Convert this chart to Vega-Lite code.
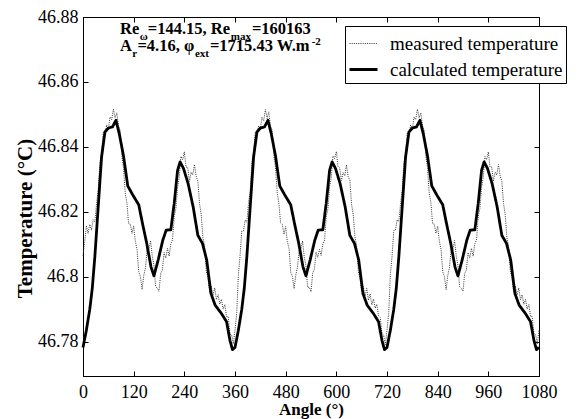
{
  "$schema": "https://vega.github.io/schema/vega-lite/v6.json",
  "width": 456,
  "height": 359,
  "autosize": {"type": "none"},
  "padding": {"left": 83, "top": 17, "right": 42, "bottom": 43},
  "background": "white",
  "config": {
    "view": {"stroke": "black", "strokeWidth": 1},
    "font": "Liberation Serif, Times New Roman, serif",
    "axis": {
      "labelFont": "Liberation Serif, Times New Roman, serif", "labelFontSize": 18, "labelColor": "black", "labelFontWeight": "normal",
      "titleFont": "Liberation Serif, Times New Roman, serif", "titleColor": "black", "titleFontWeight": "bold",
      "tickColor": "black", "domainColor": "black", "grid": false, "tickSize": -5
    },
    "legend": {
      "orient": "none", "legendX": 262, "legendY": 9,
      "strokeColor": "black", "fillColor": "white", "padding": 3,
      "labelFont": "Liberation Serif, Times New Roman, serif", "labelFontSize": 19, "labelColor": "black", "labelLimit": 0,
      "symbolType": "stroke", "symbolSize": 784, "rowPadding": -7, "labelOffset": 11
    }
  },
  "datasets": {
    "measured": [
      {"angle":0,"temp":46.8065},{"angle":4,"temp":46.8108},{"angle":8,"temp":46.8158},{"angle":12,"temp":46.8134},{"angle":16,"temp":46.8162},{"angle":20,"temp":46.8144},{"angle":24,"temp":46.8176},{"angle":28,"temp":46.8170},{"angle":32,"temp":46.8225},{"angle":36,"temp":46.8266},{"angle":40,"temp":46.8351},{"angle":44,"temp":46.8381},{"angle":48,"temp":46.8445},{"angle":52,"temp":46.8438},{"angle":56,"temp":46.8468},{"angle":60,"temp":46.8454},{"angle":64,"temp":46.8492},{"angle":68,"temp":46.8484},{"angle":72,"temp":46.8516},{"angle":76,"temp":46.8490},{"angle":80,"temp":46.8505},{"angle":84,"temp":46.8466},{"angle":88,"temp":46.8451},{"angle":92,"temp":46.8371},{"angle":96,"temp":46.8335},{"angle":100,"temp":46.8258},{"angle":104,"temp":46.8228},{"angle":108,"temp":46.8164},{"angle":112,"temp":46.8162},{"angle":116,"temp":46.8134},{"angle":120,"temp":46.8156},{"angle":124,"temp":46.8110},{"angle":128,"temp":46.8085},{"angle":132,"temp":46.8016},{"angle":136,"temp":46.8001},{"angle":140,"temp":46.7961},{"angle":144,"temp":46.8005},{"angle":148,"temp":46.8028},{"angle":152,"temp":46.8088},{"angle":156,"temp":46.8084},{"angle":160,"temp":46.8112},{"angle":164,"temp":46.8064},{"angle":168,"temp":46.8036},{"angle":172,"temp":46.7970},{"angle":176,"temp":46.7965},{"angle":180,"temp":46.7956},{"angle":184,"temp":46.8011},{"angle":188,"temp":46.8021},{"angle":192,"temp":46.8075},{"angle":196,"temp":46.8058},{"angle":200,"temp":46.8088},{"angle":204,"temp":46.8064},{"angle":208,"temp":46.8102},{"angle":212,"temp":46.8114},{"angle":216,"temp":46.8186},{"angle":220,"temp":46.8210},{"angle":224,"temp":46.8275},{"angle":228,"temp":46.8306},{"angle":232,"temp":46.8371},{"angle":236,"temp":46.8361},{"angle":240,"temp":46.8385},{"angle":244,"temp":46.8338},{"angle":248,"temp":46.8338},{"angle":252,"temp":46.8294},{"angle":256,"temp":46.8322},{"angle":260,"temp":46.8314},{"angle":264,"temp":46.8346},{"angle":268,"temp":46.8310},{"angle":272,"temp":46.8295},{"angle":276,"temp":46.8226},{"angle":280,"temp":46.8191},{"angle":284,"temp":46.8121},{"angle":288,"temp":46.8095},{"angle":292,"temp":46.8018},{"angle":296,"temp":46.7998},{"angle":300,"temp":46.7954},{"angle":304,"temp":46.7972},{"angle":308,"temp":46.7944},{"angle":312,"temp":46.7966},{"angle":316,"temp":46.7930},{"angle":320,"temp":46.7945},{"angle":324,"temp":46.7916},{"angle":328,"temp":46.7931},{"angle":332,"temp":46.7901},{"angle":336,"temp":46.7915},{"angle":340,"temp":46.7878},{"angle":344,"temp":46.7878},{"angle":348,"temp":46.7824},{"angle":352,"temp":46.7822},{"angle":356,"temp":46.7794},
      {"angle":360,"temp":46.7836},{"angle":364,"temp":46.7890},{"angle":368,"temp":46.8005},{"angle":372,"temp":46.8066},{"angle":376,"temp":46.8141},{"angle":380,"temp":46.8141},{"angle":384,"temp":46.8175},{"angle":388,"temp":46.8168},{"angle":392,"temp":46.8228},{"angle":396,"temp":46.8264},{"angle":400,"temp":46.8352},{"angle":404,"temp":46.8384},{"angle":408,"temp":46.8446},{"angle":412,"temp":46.8440},{"angle":416,"temp":46.8465},{"angle":420,"temp":46.8456},{"angle":424,"temp":46.8491},{"angle":428,"temp":46.8481},{"angle":432,"temp":46.8515},{"angle":436,"temp":46.8488},{"angle":440,"temp":46.8508},{"angle":444,"temp":46.8464},{"angle":448,"temp":46.8452},{"angle":452,"temp":46.8374},{"angle":456,"temp":46.8336},{"angle":460,"temp":46.8260},{"angle":464,"temp":46.8225},{"angle":468,"temp":46.8166},{"angle":472,"temp":46.8161},{"angle":476,"temp":46.8131},{"angle":480,"temp":46.8155},{"angle":484,"temp":46.8108},{"angle":488,"temp":46.8088},{"angle":492,"temp":46.8014},{"angle":496,"temp":46.8002},{"angle":500,"temp":46.7964},{"angle":504,"temp":46.8006},{"angle":508,"temp":46.8030},{"angle":512,"temp":46.8085},{"angle":516,"temp":46.8086},{"angle":520,"temp":46.8111},{"angle":524,"temp":46.8061},{"angle":528,"temp":46.8035},{"angle":532,"temp":46.7968},{"angle":536,"temp":46.7968},{"angle":540,"temp":46.7954},{"angle":544,"temp":46.8012},{"angle":548,"temp":46.8024},{"angle":552,"temp":46.8076},{"angle":556,"temp":46.8060},{"angle":560,"temp":46.8085},{"angle":564,"temp":46.8066},{"angle":568,"temp":46.8101},{"angle":572,"temp":46.8111},{"angle":576,"temp":46.8185},{"angle":580,"temp":46.8208},{"angle":584,"temp":46.8278},{"angle":588,"temp":46.8304},{"angle":592,"temp":46.8372},{"angle":596,"temp":46.8364},{"angle":600,"temp":46.8386},{"angle":604,"temp":46.8340},{"angle":608,"temp":46.8335},{"angle":612,"temp":46.8296},{"angle":616,"temp":46.8321},{"angle":620,"temp":46.8311},{"angle":624,"temp":46.8345},{"angle":628,"temp":46.8308},{"angle":632,"temp":46.8298},{"angle":636,"temp":46.8224},{"angle":640,"temp":46.8192},{"angle":644,"temp":46.8124},{"angle":648,"temp":46.8096},{"angle":652,"temp":46.8020},{"angle":656,"temp":46.7995},{"angle":660,"temp":46.7956},{"angle":664,"temp":46.7971},{"angle":668,"temp":46.7941},{"angle":672,"temp":46.7965},{"angle":676,"temp":46.7928},{"angle":680,"temp":46.7948},{"angle":684,"temp":46.7914},{"angle":688,"temp":46.7932},{"angle":692,"temp":46.7904},{"angle":696,"temp":46.7916},{"angle":700,"temp":46.7880},{"angle":704,"temp":46.7875},{"angle":708,"temp":46.7826},{"angle":712,"temp":46.7821},{"angle":716,"temp":46.7791},
      {"angle":720,"temp":46.7835},{"angle":724,"temp":46.7888},{"angle":728,"temp":46.8008},{"angle":732,"temp":46.8064},{"angle":736,"temp":46.8142},{"angle":740,"temp":46.8144},{"angle":744,"temp":46.8176},{"angle":748,"temp":46.8170},{"angle":752,"temp":46.8225},{"angle":756,"temp":46.8266},{"angle":760,"temp":46.8351},{"angle":764,"temp":46.8381},{"angle":768,"temp":46.8445},{"angle":772,"temp":46.8438},{"angle":776,"temp":46.8468},{"angle":780,"temp":46.8454},{"angle":784,"temp":46.8492},{"angle":788,"temp":46.8484},{"angle":792,"temp":46.8516},{"angle":796,"temp":46.8490},{"angle":800,"temp":46.8505},{"angle":804,"temp":46.8466},{"angle":808,"temp":46.8451},{"angle":812,"temp":46.8371},{"angle":816,"temp":46.8335},{"angle":820,"temp":46.8258},{"angle":824,"temp":46.8228},{"angle":828,"temp":46.8164},{"angle":832,"temp":46.8162},{"angle":836,"temp":46.8134},{"angle":840,"temp":46.8156},{"angle":844,"temp":46.8110},{"angle":848,"temp":46.8085},{"angle":852,"temp":46.8016},{"angle":856,"temp":46.8001},{"angle":860,"temp":46.7961},{"angle":864,"temp":46.8005},{"angle":868,"temp":46.8028},{"angle":872,"temp":46.8088},{"angle":876,"temp":46.8084},{"angle":880,"temp":46.8112},{"angle":884,"temp":46.8064},{"angle":888,"temp":46.8036},{"angle":892,"temp":46.7970},{"angle":896,"temp":46.7965},{"angle":900,"temp":46.7956},{"angle":904,"temp":46.8011},{"angle":908,"temp":46.8021},{"angle":912,"temp":46.8075},{"angle":916,"temp":46.8058},{"angle":920,"temp":46.8088},{"angle":924,"temp":46.8064},{"angle":928,"temp":46.8102},{"angle":932,"temp":46.8114},{"angle":936,"temp":46.8186},{"angle":940,"temp":46.8210},{"angle":944,"temp":46.8275},{"angle":948,"temp":46.8306},{"angle":952,"temp":46.8371},{"angle":956,"temp":46.8361},{"angle":960,"temp":46.8385},{"angle":964,"temp":46.8338},{"angle":968,"temp":46.8338},{"angle":972,"temp":46.8294},{"angle":976,"temp":46.8322},{"angle":980,"temp":46.8314},{"angle":984,"temp":46.8346},{"angle":988,"temp":46.8310},{"angle":992,"temp":46.8295},{"angle":996,"temp":46.8226},{"angle":1000,"temp":46.8191},{"angle":1004,"temp":46.8121},{"angle":1008,"temp":46.8095},{"angle":1012,"temp":46.8018},{"angle":1016,"temp":46.7998},{"angle":1020,"temp":46.7954},{"angle":1024,"temp":46.7972},{"angle":1028,"temp":46.7944},{"angle":1032,"temp":46.7966},{"angle":1036,"temp":46.7930},{"angle":1040,"temp":46.7945},{"angle":1044,"temp":46.7916},{"angle":1048,"temp":46.7931},{"angle":1052,"temp":46.7901},{"angle":1056,"temp":46.7915},{"angle":1060,"temp":46.7878},{"angle":1064,"temp":46.7878},{"angle":1068,"temp":46.7824},{"angle":1072,"temp":46.7822},{"angle":1076,"temp":46.7794},{"angle":1080,"temp":46.7836}
    ],
    "calculated": [
      {"angle":0,"temp":46.7783},{"angle":8,"temp":46.7836},{"angle":16,"temp":46.7900},{"angle":22,"temp":46.7965},{"angle":28,"temp":46.8061},{"angle":36,"temp":46.8215},{"angle":44,"temp":46.8369},{"angle":52,"temp":46.8446},{"angle":60,"temp":46.8458},{"angle":70,"temp":46.8462},{"angle":78,"temp":46.8482},{"angle":86,"temp":46.8440},{"angle":96,"temp":46.8372},{"angle":106,"temp":46.8280},{"angle":118,"temp":46.8252},{"angle":132,"temp":46.8222},{"angle":141,"temp":46.8164},{"angle":151,"temp":46.8103},{"angle":161,"temp":46.8031},{"angle":168,"temp":46.8003},{"angle":178,"temp":46.8052},{"angle":189,"temp":46.8113},{"angle":197,"temp":46.8144},{"angle":208,"temp":46.8145},{"angle":216,"temp":46.8226},{"angle":224,"temp":46.8328},{"angle":230,"temp":46.8354},{"angle":238,"temp":46.8334},{"angle":249,"temp":46.8287},{"angle":261,"temp":46.8215},{"angle":272,"temp":46.8128},{"angle":283,"temp":46.8103},{"angle":293,"temp":46.8052},{"angle":303,"temp":46.7949},{"angle":313,"temp":46.7913},{"angle":328,"temp":46.7887},{"angle":340,"temp":46.7862},{"angle":348,"temp":46.7805},{"angle":354,"temp":46.7776},
      {"angle":360,"temp":46.7783},{"angle":368,"temp":46.7836},{"angle":376,"temp":46.7900},{"angle":382,"temp":46.7965},{"angle":388,"temp":46.8061},{"angle":396,"temp":46.8215},{"angle":404,"temp":46.8369},{"angle":412,"temp":46.8446},{"angle":420,"temp":46.8458},{"angle":430,"temp":46.8462},{"angle":438,"temp":46.8482},{"angle":446,"temp":46.8440},{"angle":456,"temp":46.8372},{"angle":466,"temp":46.8280},{"angle":478,"temp":46.8252},{"angle":492,"temp":46.8222},{"angle":501,"temp":46.8164},{"angle":511,"temp":46.8103},{"angle":521,"temp":46.8031},{"angle":528,"temp":46.8003},{"angle":538,"temp":46.8052},{"angle":549,"temp":46.8113},{"angle":557,"temp":46.8144},{"angle":568,"temp":46.8145},{"angle":576,"temp":46.8226},{"angle":584,"temp":46.8328},{"angle":590,"temp":46.8354},{"angle":598,"temp":46.8334},{"angle":609,"temp":46.8287},{"angle":621,"temp":46.8215},{"angle":632,"temp":46.8128},{"angle":643,"temp":46.8103},{"angle":653,"temp":46.8052},{"angle":663,"temp":46.7949},{"angle":673,"temp":46.7913},{"angle":688,"temp":46.7887},{"angle":700,"temp":46.7862},{"angle":708,"temp":46.7805},{"angle":714,"temp":46.7776},
      {"angle":720,"temp":46.7783},{"angle":728,"temp":46.7836},{"angle":736,"temp":46.7900},{"angle":742,"temp":46.7965},{"angle":748,"temp":46.8061},{"angle":756,"temp":46.8215},{"angle":764,"temp":46.8369},{"angle":772,"temp":46.8446},{"angle":780,"temp":46.8458},{"angle":790,"temp":46.8462},{"angle":798,"temp":46.8482},{"angle":806,"temp":46.8440},{"angle":816,"temp":46.8372},{"angle":826,"temp":46.8280},{"angle":838,"temp":46.8252},{"angle":852,"temp":46.8222},{"angle":861,"temp":46.8164},{"angle":871,"temp":46.8103},{"angle":881,"temp":46.8031},{"angle":888,"temp":46.8003},{"angle":898,"temp":46.8052},{"angle":909,"temp":46.8113},{"angle":917,"temp":46.8144},{"angle":928,"temp":46.8145},{"angle":936,"temp":46.8226},{"angle":944,"temp":46.8328},{"angle":950,"temp":46.8354},{"angle":958,"temp":46.8334},{"angle":969,"temp":46.8287},{"angle":981,"temp":46.8215},{"angle":992,"temp":46.8128},{"angle":1003,"temp":46.8103},{"angle":1013,"temp":46.8052},{"angle":1023,"temp":46.7949},{"angle":1033,"temp":46.7913},{"angle":1048,"temp":46.7887},{"angle":1060,"temp":46.7862},{"angle":1068,"temp":46.7805},{"angle":1074,"temp":46.7776},{"angle":1080,"temp":46.7783}
    ],
    "notes": [
      {"text":"Re","x":87.6,"y":46.8749,"kind":"main"},
      {"text":"ω","x":134.5,"y":46.8728,"kind":"sub"},
      {"text":"=144.15, Re","x":153.5,"y":46.8749,"kind":"main"},
      {"text":"max","x":350,"y":46.8728,"kind":"sub"},
      {"text":"=160163","x":400,"y":46.8749,"kind":"main"},
      {"text":"A","x":87.6,"y":46.8696,"kind":"main"},
      {"text":"r","x":116.5,"y":46.8677,"kind":"sub"},
      {"text":"=4.16, φ","x":129,"y":46.8696,"kind":"main"},
      {"text":"ext","x":265,"y":46.8677,"kind":"sub"},
      {"text":"=1715.43 W.m","x":300.5,"y":46.8696,"kind":"main"},
      {"text":"-2","x":541.5,"y":46.8714,"kind":"sub"}
    ]
  },
  "layer": [
    {
      "data": {"name": "measured"},
      "transform": [{"calculate": "'measured temperature'", "as": "series"}],
      "mark": {"type": "line", "strokeCap": "butt"},
      "encoding": {
        "x": {"field": "angle", "type": "quantitative",
              "scale": {"domain": [0, 1080], "nice": false, "zero": false},
              "axis": {"orient": "bottom", "values": [0,120,240,360,480,600,720,840,960,1080], "format": "d",
                       "labelFont": "Liberation Serif, Times New Roman, serif",
                       "title": "Angle (°)", "titleFontSize": 17, "titleY": 38, "titleBaseline": "alphabetic",
                       "labelPadding": 12, "labelFlush": false}},
        "y": {"field": "temp", "type": "quantitative",
              "scale": {"domain": [46.7695, 46.88], "nice": false, "zero": false},
              "axis": {"orient": "left", "values": [46.78,46.8,46.82,46.84,46.86,46.88], "format": "~g",
                       "labelFont": "Liberation Serif, Times New Roman, serif",
                       "title": "Temperature (°C)", "titleFontSize": 21, "titleX": -52, "titleY": 201,
                       "titleBaseline": "alphabetic", "labelPadding": 10}},
        "color": {"field": "series", "type": "nominal",
                  "scale": {"domain": ["measured temperature", "calculated temperature"], "range": ["#333333", "black"]},
                  "legend": {"title": null, "labelFont": "Liberation Serif, Times New Roman, serif", "labelLimit": 0}},
        "strokeDash": {"field": "series", "type": "nominal",
                       "scale": {"domain": ["measured temperature", "calculated temperature"], "range": [[1, 1.2], [1, 0]]},
                       "legend": {"title": null, "labelFont": "Liberation Serif, Times New Roman, serif", "labelLimit": 0}},
        "strokeWidth": {"field": "series", "type": "nominal",
                        "scale": {"domain": ["measured temperature", "calculated temperature"], "range": [1, 2.8]},
                        "legend": {"title": null, "labelFont": "Liberation Serif, Times New Roman, serif", "labelLimit": 0}}
      }
    },
    {
      "data": {"name": "calculated"},
      "transform": [{"calculate": "'calculated temperature'", "as": "series"}],
      "mark": {"type": "line", "strokeJoin": "round"},
      "encoding": {
        "x": {"field": "angle", "type": "quantitative",
              "axis": {"orient": "top", "values": [0,120,240,360,480,600,720,840,960,1080],
                       "labels": false, "domain": false, "title": null}},
        "y": {"field": "temp", "type": "quantitative",
              "axis": {"orient": "right", "values": [46.78,46.8,46.82,46.84,46.86,46.88],
                       "labels": false, "domain": false, "title": null}},
        "color": {"field": "series", "type": "nominal", "legend": {"title": null}},
        "strokeDash": {"field": "series", "type": "nominal", "legend": {"title": null}},
        "strokeWidth": {"field": "series", "type": "nominal", "legend": {"title": null}}
      }
    },
    {
      "data": {"name": "notes"},
      "transform": [{"filter": "datum.kind === 'main'"}],
      "mark": {"type": "text", "align": "left", "baseline": "alphabetic", "font": "Liberation Serif, Times New Roman, serif", "fontWeight": "bold", "fontSize": 16.5, "color": "black"},
      "encoding": {
        "x": {"field": "x", "type": "quantitative", "axis": null},
        "y": {"field": "y", "type": "quantitative", "axis": null},
        "text": {"field": "text", "type": "nominal"}
      }
    },
    {
      "data": {"name": "notes"},
      "transform": [{"filter": "datum.kind === 'sub'"}],
      "mark": {"type": "text", "align": "left", "baseline": "alphabetic", "font": "Liberation Serif, Times New Roman, serif", "fontWeight": "bold", "fontSize": 11, "color": "black"},
      "encoding": {
        "x": {"field": "x", "type": "quantitative", "axis": null},
        "y": {"field": "y", "type": "quantitative", "axis": null},
        "text": {"field": "text", "type": "nominal"}
      }
    }
  ]
}
